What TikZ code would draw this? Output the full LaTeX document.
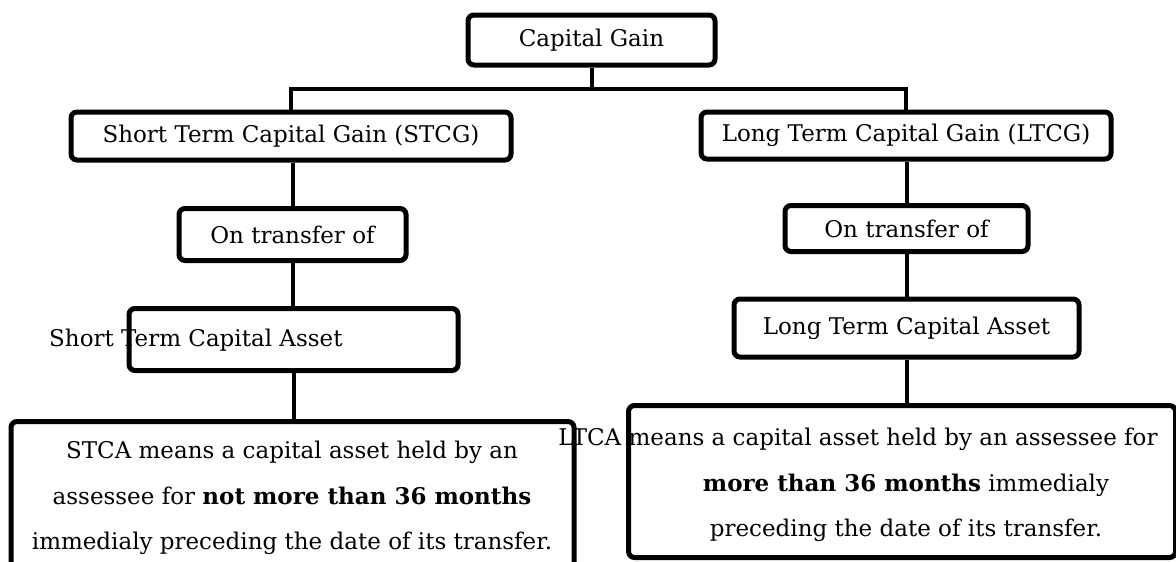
\documentclass[tikz,border=0pt]{standalone}
\usepackage{fontspec}
\setmainfont{DejaVu Serif}
\begin{document}
\begin{tikzpicture}[x=1pt,y=-1pt,
  box/.style={draw, line width=5pt, rounded corners=6pt, inner sep=0pt,
    font=\fontsize{23}{27}\selectfont},
  link/.style={line width=4pt},
  txt/.style={inner sep=0pt, font=\fontsize{23}{45.5}\selectfont, align=center}]
\useasboundingbox (0,0) rectangle (1176,562);

% top level
\node[box, minimum width=247pt, minimum height=50pt] (cg) at (591.5,40) {Capital Gain};

% short term branch
\node[box, minimum width=440pt, minimum height=48pt] (stcg) at (291,136) {Short Term Capital Gain (STCG)};
\node[box, minimum width=227pt, minimum height=52pt] (ot1) at (292.5,234.5) {On transfer of};
\node[box, minimum width=329pt, minimum height=62pt] (stca) at (293.5,339.5) {};
\node[inner sep=0pt, anchor=west, font=\fontsize{23}{27}\selectfont] (stcat) at (49,340) {Short Term Capital Asset};
\node[box, minimum width=563pt, minimum height=200pt, anchor=north] (stdef) at (292.5,419) {};
\node[txt] (stdeft) at (292,498) {STCA means a capital asset held by an\\
  assessee for \textbf{not more than 36 months}\\
  immedialy preceding the date of its transfer.};

% long term branch
\node[box, minimum width=410pt, minimum height=47pt] (ltcg) at (906,135.5) {Long Term Capital Gain (LTCG)};
\node[box, minimum width=243pt, minimum height=46pt] (ot2) at (906.5,228.5) {On transfer of};
\node[box, minimum width=345pt, minimum height=58pt] (ltca) at (906.5,328) {Long Term Capital Asset};
\node[box, minimum width=547pt, minimum height=152pt, anchor=north west] (ltdef) at (626,403) {};
\node[txt] (ltdeft) at (906,485) {\hspace*{-96pt}LTCA means a capital asset held by an assessee for\\
  \textbf{more than 36 months} immedialy\\
  preceding the date of its transfer.};

% connectors
\draw[link] (cg.south) -- ++(0,21) coordinate (j);
\draw[link] (stcg.north) |- (j) -| (ltcg.north);
\draw[link] (ot1.north) -- (ot1.north |- stcg.south);
\draw[link] (ot1.south) -- (ot1.south |- stca.north);
\draw[link] (stca.south) -- (stca.south |- stdef.north);
\draw[link] (ot2.north) -- (ot2.north |- ltcg.south);
\draw[link] (ot2.south) -- (ot2.south |- ltca.north);
\draw[link] (ltca.south) -- (ltca.south |- ltdef.north);
\end{tikzpicture}
\end{document}
